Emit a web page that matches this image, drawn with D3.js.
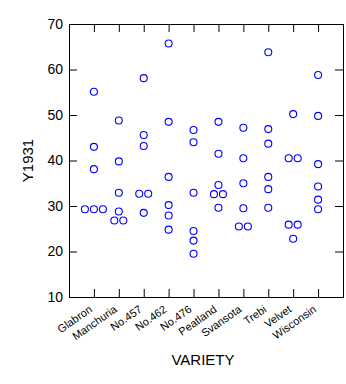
<!DOCTYPE html>
<html>
<head>
<meta charset="utf-8">
<script src="https://cdn.jsdelivr.net/npm/d3@7"></script>
<style>
  html, body { margin: 0; padding: 0; background: #fff; }
  svg text { font-family: "Liberation Sans", Arial, sans-serif; fill: #000; }
</style>
</head>
<body>
<svg id="chart" width="346" height="384"></svg>
<script>
// Categories (x axis)
const varieties = ["Glabron", "Manchuria", "No.457", "No.462", "No.476",
                   "Peatland", "Svansota", "Trebi", "Velvet", "Wisconsin"];
// Y1931 values per variety (equal values are displayed side by side)
const glabron   = [55.1, 43.0, 38.1, 29.3, 29.3, 29.3];
const manchuria = [48.8, 39.8, 32.9, 28.8, 26.8, 26.8];
const no457     = [58.1, 45.6, 43.2, 32.7, 32.7, 28.5];
const no462     = [65.7, 48.5, 36.4, 30.2, 27.9, 24.8];
const no476     = [46.7, 44.0, 32.9, 24.5, 22.4, 19.5];
const peatland  = [48.5, 41.5, 34.6, 32.6, 32.6, 29.6];
const svansota  = [47.2, 40.5, 35.0, 29.5, 25.5, 25.5];
const trebi     = [63.8, 46.9, 43.7, 36.4, 33.7, 29.6];
const velvet    = [50.2, 40.5, 40.5, 25.9, 25.9, 22.8];
const wisconsin = [58.8, 49.8, 39.2, 34.3, 31.4, 29.3];
const seriesValues = [glabron, manchuria, no457, no462, no476,
                      peatland, svansota, trebi, velvet, wisconsin];
const yTicks = [10, 20, 30, 40, 50, 60, 70];

(function () {
const svg = d3.select("#chart");
const pLeft = 69, pRight = 343, pTop = 24, pBottom = 297;
const tickLen = 8;

const x = d3.scalePoint().domain(varieties).range([pLeft, pRight]).padding(1);
const y = d3.scaleLinear().domain([10, 70]).range([pBottom, pTop]);

// frame
svg.append("rect")
  .attr("x", pLeft + 0.5).attr("y", pTop + 0.5)
  .attr("width", pRight - pLeft).attr("height", pBottom - pTop)
  .attr("fill", "none").attr("stroke", "#000").attr("stroke-width", 1);

// left axis with labels
const gl = svg.append("g").attr("transform", `translate(${pLeft},0)`)
  .call(d3.axisLeft(y).tickValues(yTicks).tickSize(-tickLen).tickPadding(6).tickFormat(d3.format("d")));
// right axis (ticks only)
const gr = svg.append("g").attr("transform", `translate(${pRight},0)`)
  .call(d3.axisRight(y).tickValues(yTicks).tickSize(-tickLen).tickFormat(""));
// top axis (ticks only)
const gt = svg.append("g").attr("transform", `translate(0,${pTop})`)
  .call(d3.axisTop(x).tickSize(-tickLen).tickFormat(""));
// bottom axis
const gb = svg.append("g").attr("transform", `translate(0,${pBottom})`)
  .call(d3.axisBottom(x).tickSize(-tickLen).tickFormat(""));

[gl, gr, gt, gb].forEach(g => {
  g.select(".domain").remove();
  g.selectAll("line").attr("stroke", "#000");
});
gl.selectAll("text").style("font-size", "14px").attr("fill", "#000");

// x tick labels, rotated
svg.append("g").selectAll("text")
  .data(varieties).join("text")
  .attr("transform", d => `translate(${x(d) - 1},${pBottom + 14}) rotate(-35)`)
  .attr("text-anchor", "end")
  .style("font-size", "11px")
  .text(d => d);

// axis titles
svg.append("text")
  .attr("transform", `translate(33,${(pTop + pBottom) / 2}) rotate(-90)`)
  .attr("text-anchor", "middle")
  .style("font-size", "15px")
  .text("Y1931");
svg.append("text")
  .attr("x", 203).attr("y", 365)
  .attr("text-anchor", "middle")
  .style("font-size", "15px")
  .text("VARIETY");

// points, with side-by-side display of equal values
const points = [];
varieties.forEach((v, i) => {
  const vals = seriesValues[i];
  const groups = d3.group(vals, d => d);
  groups.forEach((arr, val) => {
    arr.forEach((_, k) => points.push({ variety: v, value: val, k, n: arr.length }));
  });
});
const dodge = 9;
svg.append("g").selectAll("circle")
  .data(points).join("circle")
  .attr("cx", d => x(d.variety) + (d.k - (d.n - 1) / 2) * dodge)
  .attr("cy", d => y(d.value))
  .attr("r", 3.5)
  .attr("fill", "none")
  .attr("stroke", "#0000ff")
  .attr("stroke-width", 1.1);
})();
</script>
</body>
</html>
